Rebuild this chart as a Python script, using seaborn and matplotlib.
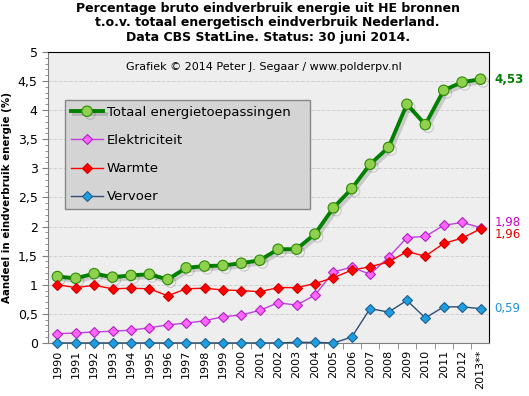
import matplotlib
matplotlib.use("Agg")
import matplotlib.pyplot as plt
import matplotlib.patheffects as pe
from matplotlib.ticker import MultipleLocator, FuncFormatter
import numpy as np
import pandas as pd
import seaborn as sns

years = ["1990", "1991", "1992", "1993", "1994", "1995", "1996", "1997",
         "1998", "1999", "2000", "2001", "2002", "2003", "2004", "2005",
         "2006", "2007", "2008", "2009", "2010", "2011", "2012", "2013**"]

totaal = [1.14, 1.11, 1.19, 1.13, 1.16, 1.18, 1.09, 1.29, 1.32, 1.33, 1.37, 1.42,
          1.61, 1.61, 1.87, 2.32, 2.65, 3.07, 3.36, 4.10, 3.75, 4.34, 4.48, 4.53]
elektriciteit = [0.16, 0.17, 0.19, 0.20, 0.22, 0.26, 0.31, 0.34, 0.38, 0.45, 0.48, 0.56,
                 0.69, 0.65, 0.82, 1.22, 1.30, 1.18, 1.47, 1.81, 1.83, 2.02, 2.07, 1.98]
warmte = [1.00, 0.95, 0.99, 0.93, 0.94, 0.93, 0.81, 0.93, 0.94, 0.91, 0.90, 0.88,
          0.95, 0.95, 1.02, 1.12, 1.25, 1.31, 1.39, 1.57, 1.49, 1.71, 1.80, 1.96]
vervoer = [0.0, 0.0, 0.0, 0.0, 0.0, 0.0, 0.0, 0.0, 0.0, 0.0, 0.0, 0.0,
           0.0, 0.01, 0.01, 0.0, 0.10, 0.59, 0.53, 0.73, 0.43, 0.62, 0.62, 0.59]

end_labels = ["4,53", "1,98", "1,96", "0,59"]

pos = np.arange(len(years))

fig, ax = plt.subplots(figsize=(5.29, 3.96), dpi=100)
fig.subplots_adjust(left=0.091, right=0.924, top=0.869, bottom=0.134)
ax.set_facecolor("#eeeeee")

shadow = [pe.SimpleLineShadow(offset=(2, -2), alpha=0.15), pe.Normal()]

series = [
    ("Totaal energietoepassingen", totaal, "#008000", "o", 7.5, 2.8, "#8fd14f", "#2e8b00", shadow),
    ("Elektriciteit", elektriciteit, "#c040e0", "D", 5.5, 1.0, "#ff66ff", "#b020c0", None),
    ("Warmte", warmte, "#ff0000", "D", 5.5, 1.0, "#ff0000", "#d00000", None),
    ("Vervoer", vervoer, "#2f4f6f", "D", 5.5, 1.0, "#1e9ee0", "#1f5f8f", None),
]

for name, vals, col, mk, ms, lw, mfc, mec, eff in series:
    df = pd.DataFrame({"x": pos, "y": vals})
    sns.lineplot(data=df, x="x", y="y", ax=ax, color=col, linewidth=lw,
                 marker=mk, markersize=ms, markerfacecolor=mfc,
                 markeredgecolor=mec, markeredgewidth=0.8, label=name,
                 path_effects=eff, zorder=3, clip_on=False)

ax.set_xlim(-0.5, 23.45)
ax.set_ylim(0, 5)
ax.yaxis.set_major_locator(MultipleLocator(0.5))
ax.yaxis.set_minor_locator(MultipleLocator(0.1))
ax.yaxis.set_major_formatter(FuncFormatter(lambda v, p: f"{v:g}".replace(".", ",")))
ax.set_xticks(pos)
ax.set_xticklabels(years, rotation=90, fontsize=8)
ax.set_xticks(pos[:-1] + 0.5, minor=True)
ax.tick_params(axis="x", which="major", length=0, pad=5)
ax.tick_params(axis="x", which="minor", length=4, color="#808080")
ax.tick_params(axis="y", which="major", length=4, labelsize=9, color="#808080")
ax.tick_params(axis="y", which="minor", length=2.5, color="#808080")
ax.grid(axis="y", which="major", linestyle="--", color="#d0d0d0", linewidth=0.7)
ax.set_axisbelow(True)

for s in ["top", "right"]:
    ax.spines[s].set_color("black")
for s in ["left", "bottom"]:
    ax.spines[s].set_color("#808080")

ax.set_xlabel("")
ax.set_ylabel("Aandeel in eindverbruik energie (%)", fontsize=7.4,
              fontweight="bold", labelpad=4)

fig.text(0.506, 0.995,
         "Percentage bruto eindverbruik energie uit HE bronnen\n"
         "t.o.v. totaal energetisch eindverbruik Nederland.\n"
         "Data CBS StatLine. Status: 30 juni 2014.",
         ha="center", va="top", fontsize=9, fontweight="bold", linespacing=1.15)

ax.text(0.49, 0.948, "Grafiek \u00a9 2014 Peter J. Segaar / www.polderpv.nl",
        transform=ax.transAxes, ha="center", va="center", fontsize=8)

last = [totaal[-1], elektriciteit[-1], warmte[-1], vervoer[-1]]
colors = ["#008000", "#cc00cc", "#e00000", "#1e90e0"]
offsets = [0, 4, -4, 0]
weights = ["bold", "normal", "normal", "normal"]
for lab, v, c, off, w in zip(end_labels, last, colors, offsets, weights):
    ax.annotate(lab, (pos[-1], v), xytext=(10, off), textcoords="offset points",
                ha="left", va="center", color=c, fontsize=8.5, fontweight=w,
                annotation_clip=False)

leg = ax.legend(loc="upper left", bbox_to_anchor=(0.039, 0.464, 0.555, 0.371),
                mode="expand", fontsize=9.5,
                frameon=True, fancybox=False, facecolor="#d4d4d4",
                edgecolor="#888888", framealpha=1, labelspacing=1.15,
                handlelength=2.4, borderpad=0.45, handletextpad=0.3,
                borderaxespad=0)

plt.savefig("out.png", dpi=100)
plt.close()
